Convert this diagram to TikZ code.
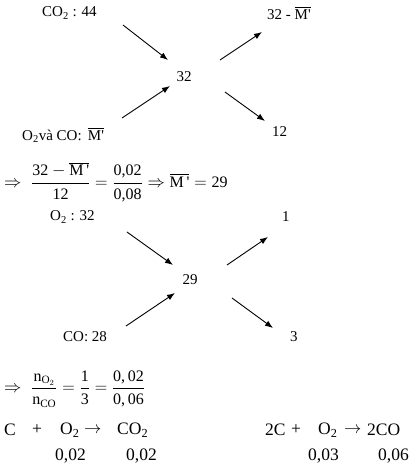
\documentclass[tikz,border=0pt]{standalone}
\usepackage{amsmath}
\usepackage{fontspec}
\setmainfont{Liberation Serif}
\usetikzlibrary{arrows.meta}

\begin{document}
  \begin{tikzpicture}[x=1pt,y=-1pt,
      txt/.style={anchor=west,inner sep=0pt,font=\fontsize{15}{18}\selectfont},
      eq/.style={anchor=west,inner sep=0pt,font=\fontsize{16}{19}\selectfont},
      rx/.style={anchor=west,inner sep=0pt,font=\fontsize{17.5}{21}\selectfont},
      arr/.style={-{Latex[length=8pt,width=6pt]},line width=0.9pt}]
    \useasboundingbox (0,0) rectangle (415,466);
    \node[txt] (co2) at (42,13) {CO\textsubscript{2} : 44};
    \node[txt] (diff) at (267,13) {32 - $\overline{\mbox{M\textquotesingle}}$};
    \node[txt,anchor=center] (mid) at (184,77) {32};
    \node[txt] (mix) at (22,135) {O\textsubscript{2}và CO: \,$\overline{\mbox{M\textquotesingle}}$};
    \node[txt] (twelve) at (272,132) {12};
    \coordinate (a1s) at (123,25);  \coordinate (a1e) at (168,60);
    \coordinate (a2s) at (122,118); \coordinate (a2e) at (170,86);
    \coordinate (a3s) at (220,60);  \coordinate (a3e) at (262,32);
    \coordinate (a4s) at (225,92);  \coordinate (a4e) at (265,121);
    \draw[arr] (a1s) -- (a1e);
    \draw[arr] (a2s) -- (a2e);
    \draw[arr] (a3s) -- (a3e);
    \draw[arr] (a4s) -- (a4e);
    \node[eq] (eqm) at (4,182) {$\Rightarrow\;\dfrac{\mbox{32}-\overline{\mbox{M\,\textquotesingle}}}{\mbox{12}}=\dfrac{\mbox{0,02}}{\mbox{0,08}}\Rightarrow\overline{\mbox{M\,\textquotesingle}}=\mbox{29}$};
    \node[txt] (o2) at (50,217) {O\textsubscript{2} : 32};
    \node[txt] (one) at (282,217) {1};
    \node[txt,anchor=center] (mid2) at (190,280) {29};
    \node[txt] (co) at (63,337) {CO: 28};
    \node[txt] (three) at (290,337) {3};
    \coordinate (b1s) at (127,232); \coordinate (b1e) at (173,265);
    \coordinate (b2s) at (126,326); \coordinate (b2e) at (175,293);
    \coordinate (b3s) at (227,265); \coordinate (b3e) at (268,237);
    \coordinate (b4s) at (232,298); \coordinate (b4e) at (273,328);
    \draw[arr] (b1s) -- (b1e);
    \draw[arr] (b2s) -- (b2e);
    \draw[arr] (b3s) -- (b3e);
    \draw[arr] (b4s) -- (b4e);
    \node[eq] (eqn) at (4,389) {$\Rightarrow\;\dfrac{\mathrm{n}_{\mathrm{O}_2}}{\mathrm{n}_{\mathrm{CO}}}=\dfrac{\mbox{1}}{\mbox{3}}=\dfrac{\mbox{0,\,02}}{\mbox{0,\,06}}$};
    \node[rx] (c) at (4,430) {C};
    \node[rx,anchor=center] (plus) at (37,430) {+};
    \node[rx] (o2r) at (60,430) {O\textsubscript{2}};
    \node[rx] (to) at (84,430) {$\rightarrow$};
    \node[rx] (co2r) at (117,430) {CO\textsubscript{2}};
    \node[rx] (n1) at (55,456) {0,02};
    \node[rx] (n2) at (126,456) {0,02};
    \node[rx] (cc) at (265,430) {2C};
    \node[rx,anchor=center] (plusb) at (296,430) {+};
    \node[rx] (o2b) at (318,430) {O\textsubscript{2}};
    \node[rx] (tob) at (344,430) {$\rightarrow$};
    \node[rx] (coc) at (367,430) {2CO};
    \node[rx] (n3) at (308,456) {0,03};
    \node[rx] (n4) at (378,456) {0,06};
  \end{tikzpicture}
\end{document}
